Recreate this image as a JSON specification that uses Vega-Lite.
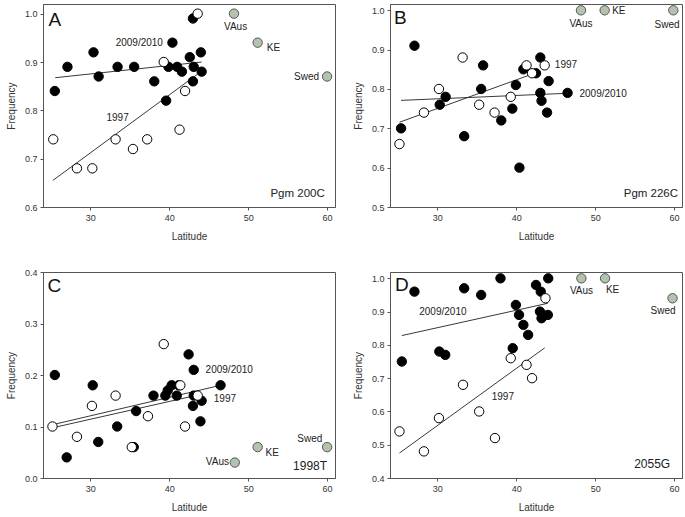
{
  "$schema": "https://vega.github.io/schema/vega-lite/v6.json",
  "padding": {"left": 5, "top": 3, "right": 2, "bottom": 2},
  "config": {
    "font": "Liberation Sans",
    "view": {"stroke": "#555", "strokeWidth": 1},
    "axis": {"labelFontSize": 9, "labelColor": "#333", "titleFontSize": 10, "titleFontWeight": "normal", "titleColor": "#333", "tickColor": "#555", "tickSize": 3, "domainColor": "#555", "grid": false, "labelPadding": 3},
    "axisX": {"titlePadding": 9},
    "axisY": {"titlePadding": 8}
  },
  "datasets": {
    "points": [
      {"panel": "A", "lat": 25.5, "freq": 0.84, "group": "2009/2010"},
      {"panel": "A", "lat": 27.1, "freq": 0.89, "group": "2009/2010"},
      {"panel": "A", "lat": 30.4, "freq": 0.92, "group": "2009/2010"},
      {"panel": "A", "lat": 31.05, "freq": 0.87, "group": "2009/2010"},
      {"panel": "A", "lat": 33.45, "freq": 0.89, "group": "2009/2010"},
      {"panel": "A", "lat": 35.55, "freq": 0.89, "group": "2009/2010"},
      {"panel": "A", "lat": 38.1, "freq": 0.86, "group": "2009/2010"},
      {"panel": "A", "lat": 39.6, "freq": 0.82, "group": "2009/2010"},
      {"panel": "A", "lat": 40.4, "freq": 0.94, "group": "2009/2010"},
      {"panel": "A", "lat": 39.9, "freq": 0.89, "group": "2009/2010"},
      {"panel": "A", "lat": 41.0, "freq": 0.89, "group": "2009/2010"},
      {"panel": "A", "lat": 41.6, "freq": 0.88, "group": "2009/2010"},
      {"panel": "A", "lat": 42.6, "freq": 0.91, "group": "2009/2010"},
      {"panel": "A", "lat": 43.0, "freq": 0.99, "group": "2009/2010"},
      {"panel": "A", "lat": 43.1, "freq": 0.89, "group": "2009/2010"},
      {"panel": "A", "lat": 43.0, "freq": 0.86, "group": "2009/2010"},
      {"panel": "A", "lat": 44.0, "freq": 0.92, "group": "2009/2010"},
      {"panel": "A", "lat": 44.1, "freq": 0.88, "group": "2009/2010"},
      {"panel": "A", "lat": 25.3, "freq": 0.74, "group": "1997"},
      {"panel": "A", "lat": 28.3, "freq": 0.68, "group": "1997"},
      {"panel": "A", "lat": 30.25, "freq": 0.68, "group": "1997"},
      {"panel": "A", "lat": 33.2, "freq": 0.74, "group": "1997"},
      {"panel": "A", "lat": 35.4, "freq": 0.72, "group": "1997"},
      {"panel": "A", "lat": 37.2, "freq": 0.74, "group": "1997"},
      {"panel": "A", "lat": 39.3, "freq": 0.90, "group": "1997"},
      {"panel": "A", "lat": 41.3, "freq": 0.76, "group": "1997"},
      {"panel": "A", "lat": 42.0, "freq": 0.84, "group": "1997"},
      {"panel": "A", "lat": 43.6, "freq": 1.00, "group": "1997"},
      {"panel": "A", "lat": 48.2, "freq": 1.00, "group": "ref"},
      {"panel": "A", "lat": 51.2, "freq": 0.94, "group": "ref"},
      {"panel": "A", "lat": 60.0, "freq": 0.87, "group": "ref"},

      {"panel": "B", "lat": 25.4, "freq": 0.70, "group": "2009/2010"},
      {"panel": "B", "lat": 27.1, "freq": 0.91, "group": "2009/2010"},
      {"panel": "B", "lat": 30.3, "freq": 0.76, "group": "2009/2010"},
      {"panel": "B", "lat": 31.05, "freq": 0.78, "group": "2009/2010"},
      {"panel": "B", "lat": 33.4, "freq": 0.68, "group": "2009/2010"},
      {"panel": "B", "lat": 35.8, "freq": 0.86, "group": "2009/2010"},
      {"panel": "B", "lat": 35.55, "freq": 0.80, "group": "2009/2010"},
      {"panel": "B", "lat": 38.1, "freq": 0.72, "group": "2009/2010"},
      {"panel": "B", "lat": 39.5, "freq": 0.75, "group": "2009/2010"},
      {"panel": "B", "lat": 39.95, "freq": 0.81, "group": "2009/2010"},
      {"panel": "B", "lat": 40.4, "freq": 0.60, "group": "2009/2010"},
      {"panel": "B", "lat": 40.9, "freq": 0.85, "group": "2009/2010"},
      {"panel": "B", "lat": 42.5, "freq": 0.84, "group": "2009/2010"},
      {"panel": "B", "lat": 43.05, "freq": 0.88, "group": "2009/2010"},
      {"panel": "B", "lat": 43.05, "freq": 0.79, "group": "2009/2010"},
      {"panel": "B", "lat": 43.2, "freq": 0.77, "group": "2009/2010"},
      {"panel": "B", "lat": 44.1, "freq": 0.82, "group": "2009/2010"},
      {"panel": "B", "lat": 43.9, "freq": 0.74, "group": "2009/2010"},
      {"panel": "B", "lat": 46.5, "freq": 0.79, "group": "2009/2010"},
      {"panel": "B", "lat": 25.2, "freq": 0.66, "group": "1997"},
      {"panel": "B", "lat": 28.3, "freq": 0.74, "group": "1997"},
      {"panel": "B", "lat": 30.2, "freq": 0.80, "group": "1997"},
      {"panel": "B", "lat": 33.2, "freq": 0.88, "group": "1997"},
      {"panel": "B", "lat": 35.3, "freq": 0.76, "group": "1997"},
      {"panel": "B", "lat": 37.25, "freq": 0.74, "group": "1997"},
      {"panel": "B", "lat": 39.3, "freq": 0.78, "group": "1997"},
      {"panel": "B", "lat": 41.3, "freq": 0.86, "group": "1997"},
      {"panel": "B", "lat": 42.0, "freq": 0.84, "group": "1997"},
      {"panel": "B", "lat": 43.6, "freq": 0.86, "group": "1997"},
      {"panel": "B", "lat": 48.2, "freq": 1.00, "group": "ref"},
      {"panel": "B", "lat": 51.2, "freq": 1.00, "group": "ref"},
      {"panel": "B", "lat": 59.9, "freq": 1.00, "group": "ref"},

      {"panel": "C", "lat": 25.5, "freq": 0.20, "group": "2009/2010"},
      {"panel": "C", "lat": 27.0, "freq": 0.04, "group": "2009/2010"},
      {"panel": "C", "lat": 30.3, "freq": 0.18, "group": "2009/2010"},
      {"panel": "C", "lat": 31.0, "freq": 0.07, "group": "2009/2010"},
      {"panel": "C", "lat": 33.4, "freq": 0.10, "group": "2009/2010"},
      {"panel": "C", "lat": 35.8, "freq": 0.13, "group": "2009/2010"},
      {"panel": "C", "lat": 35.5, "freq": 0.06, "group": "2009/2010"},
      {"panel": "C", "lat": 38.0, "freq": 0.16, "group": "2009/2010"},
      {"panel": "C", "lat": 39.5, "freq": 0.16, "group": "2009/2010"},
      {"panel": "C", "lat": 39.8, "freq": 0.17, "group": "2009/2010"},
      {"panel": "C", "lat": 40.3, "freq": 0.18, "group": "2009/2010"},
      {"panel": "C", "lat": 40.95, "freq": 0.16, "group": "2009/2010"},
      {"panel": "C", "lat": 41.2, "freq": 0.18, "group": "2009/2010"},
      {"panel": "C", "lat": 42.45, "freq": 0.24, "group": "2009/2010"},
      {"panel": "C", "lat": 43.1, "freq": 0.21, "group": "2009/2010"},
      {"panel": "C", "lat": 43.1, "freq": 0.16, "group": "2009/2010"},
      {"panel": "C", "lat": 43.0, "freq": 0.14, "group": "2009/2010"},
      {"panel": "C", "lat": 44.1, "freq": 0.15, "group": "2009/2010"},
      {"panel": "C", "lat": 43.95, "freq": 0.11, "group": "2009/2010"},
      {"panel": "C", "lat": 46.5, "freq": 0.18, "group": "2009/2010"},
      {"panel": "C", "lat": 25.2, "freq": 0.10, "group": "1997"},
      {"panel": "C", "lat": 28.3, "freq": 0.08, "group": "1997"},
      {"panel": "C", "lat": 30.2, "freq": 0.14, "group": "1997"},
      {"panel": "C", "lat": 33.2, "freq": 0.16, "group": "1997"},
      {"panel": "C", "lat": 35.25, "freq": 0.06, "group": "1997"},
      {"panel": "C", "lat": 37.3, "freq": 0.12, "group": "1997"},
      {"panel": "C", "lat": 39.3, "freq": 0.26, "group": "1997"},
      {"panel": "C", "lat": 41.4, "freq": 0.18, "group": "1997"},
      {"panel": "C", "lat": 42.0, "freq": 0.10, "group": "1997"},
      {"panel": "C", "lat": 43.6, "freq": 0.16, "group": "1997"},
      {"panel": "C", "lat": 48.3, "freq": 0.03, "group": "ref"},
      {"panel": "C", "lat": 51.2, "freq": 0.06, "group": "ref"},
      {"panel": "C", "lat": 60.0, "freq": 0.06, "group": "ref"},

      {"panel": "D", "lat": 25.5, "freq": 0.75, "group": "2009/2010"},
      {"panel": "D", "lat": 27.1, "freq": 0.96, "group": "2009/2010"},
      {"panel": "D", "lat": 30.25, "freq": 0.78, "group": "2009/2010"},
      {"panel": "D", "lat": 31.0, "freq": 0.77, "group": "2009/2010"},
      {"panel": "D", "lat": 33.4, "freq": 0.97, "group": "2009/2010"},
      {"panel": "D", "lat": 35.55, "freq": 0.95, "group": "2009/2010"},
      {"panel": "D", "lat": 38.0, "freq": 1.00, "group": "2009/2010"},
      {"panel": "D", "lat": 39.55, "freq": 0.79, "group": "2009/2010"},
      {"panel": "D", "lat": 39.95, "freq": 0.92, "group": "2009/2010"},
      {"panel": "D", "lat": 40.35, "freq": 0.89, "group": "2009/2010"},
      {"panel": "D", "lat": 40.9, "freq": 0.86, "group": "2009/2010"},
      {"panel": "D", "lat": 41.5, "freq": 0.83, "group": "2009/2010"},
      {"panel": "D", "lat": 42.5, "freq": 0.98, "group": "2009/2010"},
      {"panel": "D", "lat": 43.1, "freq": 0.96, "group": "2009/2010"},
      {"panel": "D", "lat": 43.0, "freq": 0.90, "group": "2009/2010"},
      {"panel": "D", "lat": 43.2, "freq": 0.88, "group": "2009/2010"},
      {"panel": "D", "lat": 44.0, "freq": 0.89, "group": "2009/2010"},
      {"panel": "D", "lat": 44.05, "freq": 1.00, "group": "2009/2010"},
      {"panel": "D", "lat": 25.2, "freq": 0.54, "group": "1997"},
      {"panel": "D", "lat": 28.3, "freq": 0.48, "group": "1997"},
      {"panel": "D", "lat": 30.2, "freq": 0.58, "group": "1997"},
      {"panel": "D", "lat": 33.25, "freq": 0.68, "group": "1997"},
      {"panel": "D", "lat": 35.3, "freq": 0.60, "group": "1997"},
      {"panel": "D", "lat": 37.3, "freq": 0.52, "group": "1997"},
      {"panel": "D", "lat": 39.3, "freq": 0.76, "group": "1997"},
      {"panel": "D", "lat": 41.3, "freq": 0.74, "group": "1997"},
      {"panel": "D", "lat": 42.0, "freq": 0.70, "group": "1997"},
      {"panel": "D", "lat": 43.7, "freq": 0.94, "group": "1997"},
      {"panel": "D", "lat": 48.25, "freq": 1.00, "group": "ref"},
      {"panel": "D", "lat": 51.25, "freq": 1.00, "group": "ref"},
      {"panel": "D", "lat": 59.8, "freq": 0.94, "group": "ref"}
    ],
    "lines": [
      {"panel": "A", "series": "2009/2010", "lat": 25.55, "freq": 0.8675},
      {"panel": "A", "series": "2009/2010", "lat": 44.1, "freq": 0.90},
      {"panel": "A", "series": "1997", "lat": 25.25, "freq": 0.655},
      {"panel": "A", "series": "1997", "lat": 43.6, "freq": 0.875},
      {"panel": "B", "series": "2009/2010", "lat": 25.4, "freq": 0.771},
      {"panel": "B", "series": "2009/2010", "lat": 46.4, "freq": 0.789},
      {"panel": "B", "series": "1997", "lat": 25.2, "freq": 0.7155},
      {"panel": "B", "series": "1997", "lat": 43.0, "freq": 0.845},
      {"panel": "C", "series": "2009/2010", "lat": 25.07, "freq": 0.103},
      {"panel": "C", "series": "2009/2010", "lat": 46.5, "freq": 0.18},
      {"panel": "C", "series": "1997", "lat": 25.07, "freq": 0.097},
      {"panel": "C", "series": "1997", "lat": 43.45, "freq": 0.1605},
      {"panel": "D", "series": "2009/2010", "lat": 25.5, "freq": 0.828},
      {"panel": "D", "series": "2009/2010", "lat": 44.0, "freq": 0.925},
      {"panel": "D", "series": "1997", "lat": 25.2, "freq": 0.475},
      {"panel": "D", "series": "1997", "lat": 43.6, "freq": 0.791}
    ],
    "labels": [
      {"panel": "A", "kind": "letter", "lat": 25.5, "freq": 0.986, "text": "A"},
      {"panel": "A", "kind": "note", "lat": 36.2, "freq": 0.94, "text": "2009/2010"},
      {"panel": "A", "kind": "note", "lat": 33.45, "freq": 0.784, "text": "1997"},
      {"panel": "A", "kind": "note", "lat": 48.4, "freq": 0.972, "text": "VAus"},
      {"panel": "A", "kind": "note", "lat": 53.2, "freq": 0.929, "text": "KE"},
      {"panel": "A", "kind": "note", "lat": 57.4, "freq": 0.87, "text": "Swed"},
      {"panel": "A", "kind": "gene", "lat": 59.7, "freq": 0.627, "text": "Pgm 200C"},
      {"panel": "B", "kind": "letter", "lat": 25.3, "freq": 0.981, "text": "B"},
      {"panel": "B", "kind": "note", "lat": 48.2, "freq": 0.964, "text": "VAus"},
      {"panel": "B", "kind": "note", "lat": 53.0, "freq": 0.998, "text": "KE"},
      {"panel": "B", "kind": "note", "lat": 59.1, "freq": 0.963, "text": "Swed"},
      {"panel": "B", "kind": "note", "lat": 46.3, "freq": 0.86, "text": "1997"},
      {"panel": "B", "kind": "note", "lat": 51.0, "freq": 0.786, "text": "2009/2010"},
      {"panel": "B", "kind": "gene", "lat": 60.5, "freq": 0.534, "text": "Pgm 226C"},
      {"panel": "C", "kind": "letter", "lat": 25.45, "freq": 0.372, "text": "C"},
      {"panel": "C", "kind": "note", "lat": 47.6, "freq": 0.21, "text": "2009/2010"},
      {"panel": "C", "kind": "note", "lat": 47.05, "freq": 0.154, "text": "1997"},
      {"panel": "C", "kind": "note", "lat": 57.8, "freq": 0.0755, "text": "Swed"},
      {"panel": "C", "kind": "note", "lat": 53.05, "freq": 0.048, "text": "KE"},
      {"panel": "C", "kind": "note", "lat": 46.1, "freq": 0.031, "text": "VAus"},
      {"panel": "C", "kind": "gene", "lat": 60.0, "freq": 0.023, "text": "1998T"},
      {"panel": "D", "kind": "letter", "lat": 25.5, "freq": 0.98, "text": "D"},
      {"panel": "D", "kind": "note", "lat": 48.26, "freq": 0.962, "text": "VAus"},
      {"panel": "D", "kind": "note", "lat": 52.2, "freq": 0.965, "text": "KE"},
      {"panel": "D", "kind": "note", "lat": 58.6, "freq": 0.902, "text": "Swed"},
      {"panel": "D", "kind": "note", "lat": 30.7, "freq": 0.90, "text": "2009/2010"},
      {"panel": "D", "kind": "note", "lat": 38.3, "freq": 0.643, "text": "1997"},
      {"panel": "D", "kind": "gene", "lat": 59.5, "freq": 0.442, "text": "2055G"}
    ]
  },
  "columns": 2,
  "spacing": {"row": 65, "column": 55},
  "bounds": "flush",
  "concat": [
    {
      "width": 292, "height": 203,
      "encoding": {
        "x": {"field": "lat", "type": "quantitative", "scale": {"domain": [24, 61], "nice": false, "zero": false}, "axis": {"title": "Latitude", "values": [30, 40, 50, 60]}},
        "y": {"field": "freq", "type": "quantitative", "scale": {"domain": [0.6, 1.02], "nice": false, "zero": false}, "axis": {"title": "Frequency", "values": [0.6, 0.7, 0.8, 0.9, 1.0], "format": ".1f"}}
      },
      "layer": [
        {"data": {"name": "lines"}, "transform": [{"filter": "datum.panel === 'A'"}], "mark": {"type": "line", "color": "#222", "strokeWidth": 0.9}, "encoding": {"detail": {"field": "series"}}},
        {"data": {"name": "points"}, "transform": [{"filter": "datum.panel === 'A'"}], "mark": {"type": "point", "shape": "circle", "filled": true, "size": 88, "opacity": 1, "strokeWidth": 1},
         "encoding": {
           "fill": {"field": "group", "type": "nominal", "scale": {"domain": ["2009/2010", "1997", "ref"], "range": ["#000000", "#ffffff", "#b4c3ae"]}, "legend": null},
           "stroke": {"field": "group", "type": "nominal", "scale": {"domain": ["2009/2010", "1997", "ref"], "range": ["#000000", "#000000", "#555555"]}, "legend": null}
         }},
        {"data": {"name": "labels"}, "transform": [{"filter": "datum.panel === 'A' && datum.kind === 'note'"}], "mark": {"type": "text", "fontSize": 10, "color": "#222", "baseline": "middle"}, "encoding": {"text": {"field": "text"}}},
        {"data": {"name": "labels"}, "transform": [{"filter": "datum.panel === 'A' && datum.kind === 'letter'"}], "mark": {"type": "text", "fontSize": 19, "color": "#111", "baseline": "middle"}, "encoding": {"text": {"field": "text"}}},
        {"data": {"name": "labels"}, "transform": [{"filter": "datum.panel === 'A' && datum.kind === 'gene'"}], "mark": {"type": "text", "fontSize": 11.5, "color": "#222", "baseline": "middle", "align": "right"}, "encoding": {"text": {"field": "text"}}}
      ]
    },
    {
      "width": 292, "height": 203,
      "encoding": {
        "x": {"field": "lat", "type": "quantitative", "scale": {"domain": [24, 61], "nice": false, "zero": false}, "axis": {"title": "Latitude", "values": [30, 40, 50, 60]}},
        "y": {"field": "freq", "type": "quantitative", "scale": {"domain": [0.5, 1.016], "nice": false, "zero": false}, "axis": {"title": "Frequency", "values": [0.5, 0.6, 0.7, 0.8, 0.9, 1.0], "format": ".1f"}}
      },
      "layer": [
        {"data": {"name": "lines"}, "transform": [{"filter": "datum.panel === 'B'"}], "mark": {"type": "line", "color": "#222", "strokeWidth": 0.9}, "encoding": {"detail": {"field": "series"}}},
        {"data": {"name": "points"}, "transform": [{"filter": "datum.panel === 'B'"}], "mark": {"type": "point", "shape": "circle", "filled": true, "size": 88, "opacity": 1, "strokeWidth": 1},
         "encoding": {
           "fill": {"field": "group", "type": "nominal", "scale": {"domain": ["2009/2010", "1997", "ref"], "range": ["#000000", "#ffffff", "#b4c3ae"]}, "legend": null},
           "stroke": {"field": "group", "type": "nominal", "scale": {"domain": ["2009/2010", "1997", "ref"], "range": ["#000000", "#000000", "#555555"]}, "legend": null}
         }},
        {"data": {"name": "labels"}, "transform": [{"filter": "datum.panel === 'B' && datum.kind === 'note'"}], "mark": {"type": "text", "fontSize": 10, "color": "#222", "baseline": "middle"}, "encoding": {"text": {"field": "text"}}},
        {"data": {"name": "labels"}, "transform": [{"filter": "datum.panel === 'B' && datum.kind === 'letter'"}], "mark": {"type": "text", "fontSize": 19, "color": "#111", "baseline": "middle"}, "encoding": {"text": {"field": "text"}}},
        {"data": {"name": "labels"}, "transform": [{"filter": "datum.panel === 'B' && datum.kind === 'gene'"}], "mark": {"type": "text", "fontSize": 11.5, "color": "#222", "baseline": "middle", "align": "right"}, "encoding": {"text": {"field": "text"}}}
      ]
    },
    {
      "width": 292, "height": 206,
      "encoding": {
        "x": {"field": "lat", "type": "quantitative", "scale": {"domain": [24, 61], "nice": false, "zero": false}, "axis": {"title": "Latitude", "values": [30, 40, 50, 60]}},
        "y": {"field": "freq", "type": "quantitative", "scale": {"domain": [0, 0.4], "nice": false, "zero": false}, "axis": {"title": "Frequency", "values": [0, 0.1, 0.2, 0.3, 0.4], "format": ".1f"}}
      },
      "layer": [
        {"data": {"name": "lines"}, "transform": [{"filter": "datum.panel === 'C'"}], "mark": {"type": "line", "color": "#222", "strokeWidth": 0.9}, "encoding": {"detail": {"field": "series"}}},
        {"data": {"name": "points"}, "transform": [{"filter": "datum.panel === 'C'"}], "mark": {"type": "point", "shape": "circle", "filled": true, "size": 88, "opacity": 1, "strokeWidth": 1},
         "encoding": {
           "fill": {"field": "group", "type": "nominal", "scale": {"domain": ["2009/2010", "1997", "ref"], "range": ["#000000", "#ffffff", "#b4c3ae"]}, "legend": null},
           "stroke": {"field": "group", "type": "nominal", "scale": {"domain": ["2009/2010", "1997", "ref"], "range": ["#000000", "#000000", "#555555"]}, "legend": null}
         }},
        {"data": {"name": "labels"}, "transform": [{"filter": "datum.panel === 'C' && datum.kind === 'note'"}], "mark": {"type": "text", "fontSize": 10, "color": "#222", "baseline": "middle"}, "encoding": {"text": {"field": "text"}}},
        {"data": {"name": "labels"}, "transform": [{"filter": "datum.panel === 'C' && datum.kind === 'letter'"}], "mark": {"type": "text", "fontSize": 19, "color": "#111", "baseline": "middle"}, "encoding": {"text": {"field": "text"}}},
        {"data": {"name": "labels"}, "transform": [{"filter": "datum.panel === 'C' && datum.kind === 'gene'"}], "mark": {"type": "text", "fontSize": 12, "color": "#222", "baseline": "middle", "align": "right"}, "encoding": {"text": {"field": "text"}}}
      ]
    },
    {
      "width": 292, "height": 206,
      "encoding": {
        "x": {"field": "lat", "type": "quantitative", "scale": {"domain": [24, 61], "nice": false, "zero": false}, "axis": {"title": "Latitude", "values": [30, 40, 50, 60]}},
        "y": {"field": "freq", "type": "quantitative", "scale": {"domain": [0.4, 1.019], "nice": false, "zero": false}, "axis": {"title": "Frequency", "values": [0.4, 0.5, 0.6, 0.7, 0.8, 0.9, 1.0], "format": ".1f"}}
      },
      "layer": [
        {"data": {"name": "lines"}, "transform": [{"filter": "datum.panel === 'D'"}], "mark": {"type": "line", "color": "#222", "strokeWidth": 0.9}, "encoding": {"detail": {"field": "series"}}},
        {"data": {"name": "points"}, "transform": [{"filter": "datum.panel === 'D'"}], "mark": {"type": "point", "shape": "circle", "filled": true, "size": 88, "opacity": 1, "strokeWidth": 1},
         "encoding": {
           "fill": {"field": "group", "type": "nominal", "scale": {"domain": ["2009/2010", "1997", "ref"], "range": ["#000000", "#ffffff", "#b4c3ae"]}, "legend": null},
           "stroke": {"field": "group", "type": "nominal", "scale": {"domain": ["2009/2010", "1997", "ref"], "range": ["#000000", "#000000", "#555555"]}, "legend": null}
         }},
        {"data": {"name": "labels"}, "transform": [{"filter": "datum.panel === 'D' && datum.kind === 'note'"}], "mark": {"type": "text", "fontSize": 10, "color": "#222", "baseline": "middle"}, "encoding": {"text": {"field": "text"}}},
        {"data": {"name": "labels"}, "transform": [{"filter": "datum.panel === 'D' && datum.kind === 'letter'"}], "mark": {"type": "text", "fontSize": 19, "color": "#111", "baseline": "middle"}, "encoding": {"text": {"field": "text"}}},
        {"data": {"name": "labels"}, "transform": [{"filter": "datum.panel === 'D' && datum.kind === 'gene'"}], "mark": {"type": "text", "fontSize": 12, "color": "#222", "baseline": "middle", "align": "right"}, "encoding": {"text": {"field": "text"}}}
      ]
    }
  ]
}
